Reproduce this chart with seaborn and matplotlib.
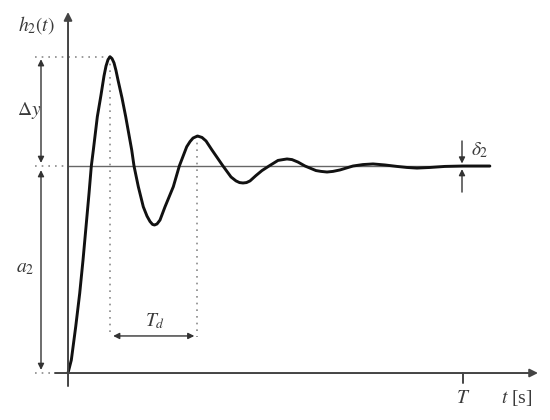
import matplotlib
matplotlib.use("Agg")
import matplotlib.pyplot as plt
import seaborn as sns

# step response h2(t) (t in units where T = 10, a2 = 1)
t_vals = [0.0, 0.084, 0.195, 0.296, 0.380, 0.456, 0.532, 0.590, 0.641, 0.742,
          0.835, 0.911, 0.962, 1.013, 1.063, 1.114, 1.165, 1.215, 1.266, 1.367,
          1.461, 1.613, 1.671, 1.780, 1.906, 2.000, 2.076, 2.139, 2.190, 2.253,
          2.329, 2.456, 2.666, 2.818, 3.005, 3.089, 3.165, 3.278, 3.392, 3.494,
          3.646, 3.924, 4.127, 4.253, 4.342, 4.430, 4.519, 4.608, 4.759, 4.911,
          5.089, 5.316, 5.443, 5.544, 5.671, 5.823, 6.000, 6.278, 6.405, 6.557,
          6.709, 6.886, 7.215, 7.468, 7.722, 8.025, 8.329, 8.582, 8.835, 9.165,
          9.544, 10.0, 10.68]
h_vals = [0.0, 0.063, 0.224, 0.385, 0.546, 0.707, 0.868, 1.000, 1.077, 1.238,
          1.343, 1.435, 1.483, 1.514, 1.528, 1.519, 1.498, 1.461, 1.415, 1.329,
          1.238, 1.077, 1.000, 0.900, 0.803, 0.758, 0.732, 0.718, 0.715, 0.720,
          0.739, 0.803, 0.900, 1.000, 1.093, 1.118, 1.135, 1.145, 1.138, 1.121,
          1.077, 1.000, 0.947, 0.928, 0.920, 0.918, 0.920, 0.928, 0.954, 0.978,
          1.000, 1.027, 1.031, 1.034, 1.031, 1.019, 1.000, 0.978, 0.974, 0.971,
          0.974, 0.981, 1.000, 1.007, 1.010, 1.005, 0.998, 0.993, 0.990, 0.993,
          0.998, 1.000, 1.000]

a2 = 1.0
peak_t, peak_h = 1.063, 1.528
second_peak_t, second_peak_h = 3.278, 1.145
T_end = 10.0

sns.set_style("white")
plt.rcParams["mathtext.fontset"] = "stix"
plt.rcParams["font.family"] = ["Liberation Serif", "DejaVu Serif"]

fig = plt.figure(figsize=(5.5, 4.2), dpi=100)
ax = fig.add_axes([0, 0, 1, 1])
ax.set_xlim(-1.722, 12.203)
ax.set_ylim(-0.227, 1.802)
ax.axis("off")

axis_col = "#444444"
dot_col = "#8a8a8a"
txt_col = "#3a3a3a"
dotted = (0, (1, 3))

# coordinate axes with arrow heads
ax.annotate("", xy=(0, 1.744), xytext=(0, -0.063),
            arrowprops=dict(arrowstyle="-|>", color=axis_col, lw=1.4,
                            mutation_scale=12, shrinkA=0, shrinkB=0))
ax.annotate("", xy=(11.9, 0), xytext=(-0.33, 0),
            arrowprops=dict(arrowstyle="-|>", color=axis_col, lw=1.4,
                            mutation_scale=12, shrinkA=0, shrinkB=0))
ax.plot([T_end, T_end], [0, -0.048], color=axis_col, lw=1.4)

# steady state level
ax.plot([0, 10.68], [a2, a2], color="#666666", lw=1.0)

# dotted helper lines
ax.plot([-0.835, peak_t], [peak_h, peak_h], color=dot_col, lw=1.2, ls=dotted)
ax.plot([-0.835, 0], [a2, a2], color=dot_col, lw=1.2, ls=dotted)
ax.plot([-0.835, -0.33], [0, 0], color=dot_col, lw=1.2, ls=dotted)
ax.plot([peak_t, peak_t], [peak_h, 0.175], color=dot_col, lw=1.2, ls=dotted)
ax.plot([second_peak_t, second_peak_t], [second_peak_h, 0.175],
        color=dot_col, lw=1.2, ls=dotted)

# response curve
sns.lineplot(x=t_vals, y=h_vals, ax=ax, color="#111111", lw=2.1,
             sort=False, estimator=None, solid_joinstyle="round",
             solid_capstyle="round")

# dimension arrows
dim = dict(arrowstyle="<|-|>", color="#333333", lw=1.0, mutation_scale=9,
           shrinkA=0, shrinkB=0)
ax.annotate("", xy=(-0.684, peak_h - 0.012), xytext=(-0.684, a2 + 0.015),
            arrowprops=dim)
ax.annotate("", xy=(-0.684, a2 - 0.02), xytext=(-0.684, 0.015),
            arrowprops=dim)
ax.annotate("", xy=(peak_t + 0.08, 0.179), xytext=(second_peak_t - 0.08, 0.179),
            arrowprops=dim)
one = dict(arrowstyle="-|>", color="#333333", lw=1.0, mutation_scale=9,
           shrinkA=0, shrinkB=0)
ax.annotate("", xy=(9.975, 1.012), xytext=(9.975, 1.121), arrowprops=one)
ax.annotate("", xy=(9.975, 0.985), xytext=(9.975, 0.874), arrowprops=one)

# labels
fs = 14
ax.text(-0.81, 1.681, r"$h_2(t)$", fontsize=fs, color=txt_col,
        ha="center", va="center")
ax.text(-0.99, 1.27, r"$\Delta y$", fontsize=fs, color=txt_col,
        ha="center", va="center")
ax.text(-1.09, 0.507, r"$a_2$", fontsize=fs, color=txt_col,
        ha="center", va="center")
ax.text(2.2, 0.25, r"$T_d$", fontsize=fs, color=txt_col,
        ha="center", va="center")
ax.text(10.2, 1.075, r"$\delta_2$", fontsize=fs, color=txt_col,
        ha="left", va="center")
ax.text(T_end, -0.121, r"$T$", fontsize=fs, color=txt_col,
        ha="center", va="center")
ax.text(11.37, -0.121, r"$t$ [s]", fontsize=fs, color=txt_col,
        ha="center", va="center")

fig.savefig("out.png", dpi=100)
